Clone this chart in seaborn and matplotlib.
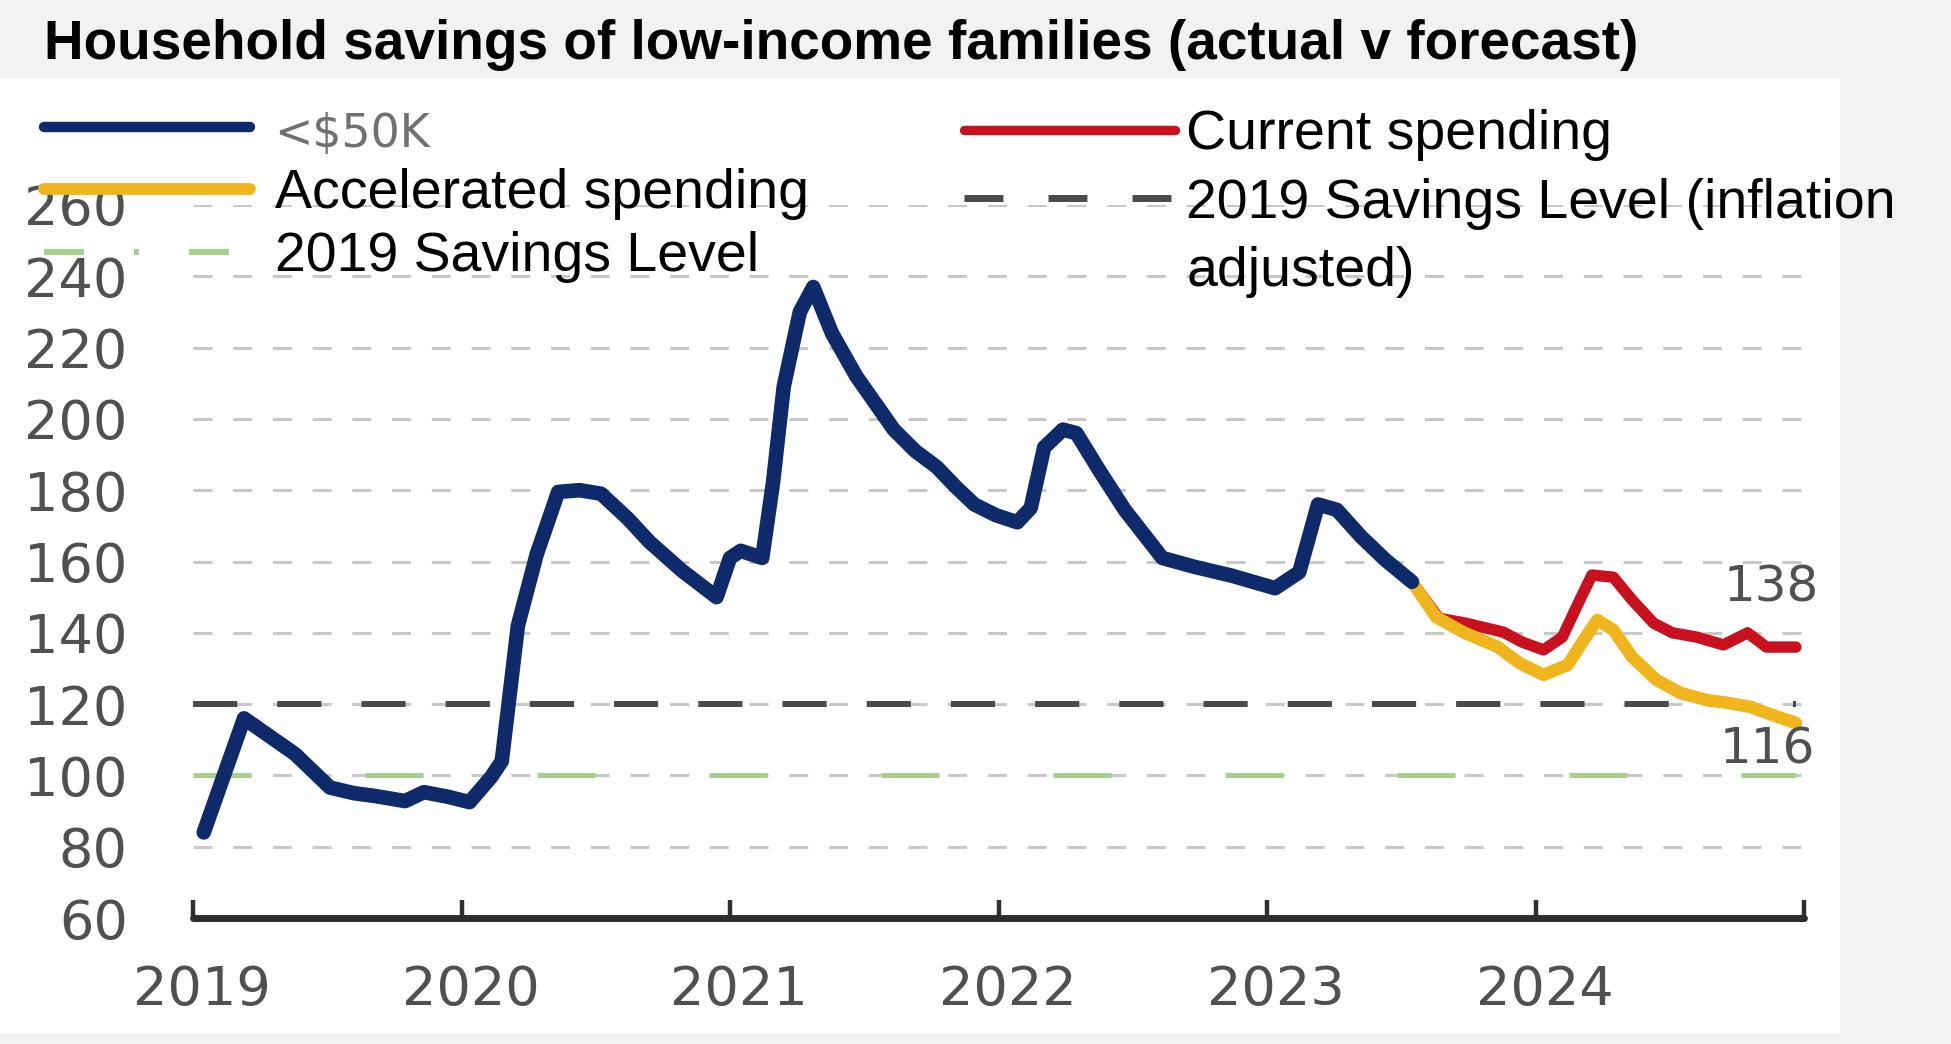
import matplotlib
matplotlib.use("Agg")
import matplotlib.pyplot as plt
import matplotlib.transforms as mtransforms
import seaborn as sns
import pandas as pd
from matplotlib.lines import Line2D
from matplotlib.patches import Rectangle

# ---------------- data ----------------
title = "Household savings of low-income families (actual v forecast)"

actual_t = [2019.04, 2019.19, 2019.38, 2019.51, 2019.60, 2019.68, 2019.79, 2019.86, 2019.95,
            2020.03, 2020.11, 2020.15, 2020.21, 2020.28, 2020.36, 2020.44, 2020.52, 2020.62,
            2020.70, 2020.82, 2020.95, 2021.00, 2021.04, 2021.12, 2021.16, 2021.20, 2021.26,
            2021.31, 2021.38, 2021.47, 2021.61, 2021.69, 2021.77, 2021.84, 2021.91, 2021.99,
            2022.07, 2022.12, 2022.17, 2022.24, 2022.29, 2022.38, 2022.47, 2022.61, 2022.73,
            2022.87, 2023.03, 2023.12, 2023.19, 2023.26, 2023.35, 2023.44, 2023.54]
actual_v = [84, 116, 106, 96.6, 95, 94.2, 92.8, 95.3, 94,
            92.5, 99.5, 104, 142, 162, 179.5, 180, 179, 172,
            165.5, 157.5, 150, 161, 163, 161, 182, 209, 230,
            237, 224, 212, 197, 191, 186.5, 181, 176, 173,
            171, 175, 192, 197, 196, 185, 174.5, 161, 158.5,
            156, 152.5, 157, 176, 174.5, 167, 160.5, 154.3]

accel_t = [2023.54, 2023.63, 2023.73, 2023.86, 2023.94, 2024.03, 2024.12, 2024.18, 2024.23,
           2024.29, 2024.36, 2024.45, 2024.54, 2024.64, 2024.72, 2024.80, 2024.88, 2024.97]
accel_v = [154.3, 144.4, 140.2, 136, 131.5, 128.2, 131, 138, 143.6,
           140.8, 133.2, 126.8, 123.1, 121.1, 120.3, 119.2, 117, 114.7]

current_t = [2023.54, 2023.64, 2023.74, 2023.88, 2023.95, 2024.03, 2024.10, 2024.17, 2024.21,
             2024.29, 2024.36, 2024.44, 2024.51, 2024.60, 2024.70, 2024.79, 2024.86, 2024.97]
current_v = [154.3, 144.1, 142.7, 140.2, 137.4, 135.2, 138.8, 150, 156.2,
             155.6, 149.2, 142.7, 140, 138.8, 136.6, 140, 136, 136]

level_2019 = 100
level_2019_infl = 120
level_end = 2024.97

year_ticks = [2019, 2020, 2021, 2022, 2023, 2024, 2025]
year_labels = ["2019", "2020", "2021", "2022", "2023", "2024", ""]
y_ticks = [60, 80, 100, 120, 140, 160, 180, 200, 220, 240, 260]
end_labels = ["138", "116"]

legend_left = [r"<\$50K", "Accelerated spending", "2019 Savings Level"]
legend_right = ["Current spending", "2019 Savings Level (inflation", "adjusted)"]

# ---------------- style ----------------
NAVY = "#0f2a6b"
YELLOW = "#f0b41c"
RED = "#c8101e"
GREEN = "#a6d08e"
DARK = "#4a4a4a"
GRID = "#c8c8c8"
TICK = "#505050"
LW_ACTUAL, LW_ACCEL, LW_CURRENT = 10.5, 9.0, 8.2

sns.set_theme(style="white")
plt.rcParams["font.family"] = ["DejaVu Sans"]

W, H = 1951, 1044
fig = plt.figure(figsize=(W / 100, H / 100), dpi=100, facecolor="#f3f2f0")
panel = Rectangle((0, 1 - 1033 / H), 1840 / W, (1033 - 78) / H,
                  transform=fig.transFigure, facecolor="white",
                  edgecolor="none", zorder=-10)
fig.add_artist(panel)

ax = fig.add_axes([193 / W, 1 - 918 / H, (1804 - 193) / W, (918 - 205) / H])
ax.set_facecolor("none")
ax.set_zorder(1)

df_actual = pd.DataFrame({"t": actual_t, "v": actual_v})
df_accel = pd.DataFrame({"t": accel_t, "v": accel_v})
df_current = pd.DataFrame({"t": current_t, "v": current_v})

# reference levels
ax.hlines(level_2019, year_ticks[0], level_end, color=GREEN, linewidth=3.6,
          linestyles=[(0, (11.6, 22.8))], zorder=2)
ax.hlines(level_2019_infl, year_ticks[0], level_end, color=DARK, linewidth=4.3,
          linestyles=[(0, (7.4, 6.7))], zorder=2)

series = [(df_actual, NAVY, LW_ACTUAL, 4),
          (df_current, RED, LW_CURRENT, 3),
          (df_accel, YELLOW, LW_ACCEL, 3.5)]
for d, col, lw, z in series:
    n_before = len(ax.lines)
    sns.lineplot(data=d, x="t", y="v", ax=ax, color=col, linewidth=lw,
                 sort=False, estimator=None, zorder=z)
    for ln in ax.lines[n_before:]:
        ln.set_linewidth(lw)
        ln.set_solid_capstyle("round")
        ln.set_solid_joinstyle("round")

ax.set_xlim(year_ticks[0], year_ticks[-1])
ax.set_ylim(y_ticks[0], y_ticks[-1])
ax.set_xlabel("")
ax.set_ylabel("")

ax.set_yticks(y_ticks)
ax.set_xticks(year_ticks, labels=year_labels)
ax.grid(axis="y", color=GRID, linewidth=2.2, linestyle=(0, (6.2, 6.8)), zorder=1)
ax.grid(axis="x", visible=False)
for s in ["left", "top", "right"]:
    ax.spines[s].set_visible(False)
ax.spines["bottom"].set_color("#2e2e2e")
ax.spines["bottom"].set_linewidth(5.0)
ax.spines["bottom"].set_capstyle("round")
ax.spines["bottom"].set_zorder(5)

ax.tick_params(axis="x", direction="in", length=13, width=3.2, color="#2e2e2e",
               pad=33, labelsize=39, labelcolor=TICK, bottom=True)
ax.tick_params(axis="y", length=0, pad=47, labelsize=39, labelcolor=TICK)
shift = mtransforms.ScaledTranslation(9 / 100, 0, fig.dpi_scale_trans)
for lab in ax.get_xticklabels():
    lab.set_transform(lab.get_transform() + shift)

# end labels
ax.annotate(end_labels[0], (current_t[-1], current_v[-1]), xytext=(-18, 43),
            textcoords="offset points", ha="center", va="center",
            fontsize=36, color=TICK, zorder=6)
ax.annotate(end_labels[1], (accel_t[-1], accel_v[-1]), xytext=(-21, -19),
            textcoords="offset points", ha="center", va="center",
            fontsize=36, color=TICK, zorder=6)

# legends
LFS = 40
h_left = [Line2D([], [], color=NAVY, linewidth=7.5),
          Line2D([], [], color=YELLOW, linewidth=8.5),
          Line2D([], [], color=GREEN, linewidth=4.5, linestyle=(0, (6.4, 8.0, 0.8, 8.0)))]
leg1 = ax.legend(h_left, legend_left, loc="upper left",
                 bbox_to_anchor=(44 / W, 1 - 108 / H), bbox_transform=fig.transFigure,
                 frameon=False, borderpad=0, borderaxespad=0, handlelength=3.7,
                 handletextpad=0.45, labelspacing=0.2,
                 prop={"family": "Liberation Sans", "size": LFS})
for txt in leg1.get_texts():
    txt.set_color("black")
leg1.get_texts()[0].set_fontfamily("DejaVu Sans")
leg1.get_texts()[0].set_fontsize(33)
leg1.get_texts()[0].set_color("#707070")
ax.add_artist(leg1)

h_right = [Line2D([], [], color=RED, linewidth=6.8),
           Line2D([], [], color=DARK, linewidth=5.0, linestyle=(0, (5.6, 6.5))),
           Line2D([], [], color="none", linewidth=0)]
leg2 = ax.legend(h_right, legend_right, loc="upper left",
                 bbox_to_anchor=(964 / W, 1 - 109 / H), bbox_transform=fig.transFigure,
                 frameon=False, borderpad=0, borderaxespad=0, handlelength=3.8,
                 handletextpad=0.2, labelspacing=0.3,
                 prop={"family": "Liberation Sans", "size": LFS})
for txt in leg2.get_texts():
    txt.set_color("black")
for lg in (leg1, leg2):
    lg.set_zorder(7)

# title fitted to measured width
ttl = fig.text(44 / W, 1 - 45 / H, title, fontsize=30, fontweight="bold",
               family="Liberation Sans", color="black", ha="left", va="center")
fig.canvas.draw()
bb = ttl.get_window_extent()
ttl.set_fontsize(30 * 1596 / bb.width)

fig.savefig("out.png", dpi=100, facecolor=fig.get_facecolor())
